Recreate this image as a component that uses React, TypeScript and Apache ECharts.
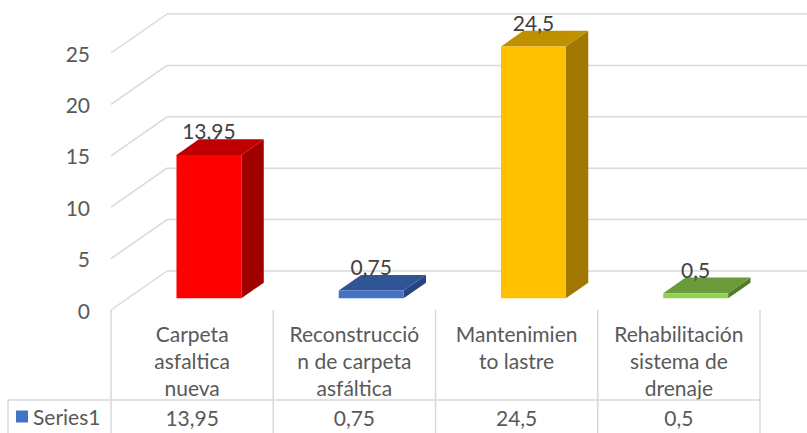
import React, { useEffect, useRef } from "react";
import * as echarts from "echarts";

const categories = [
  "Carpeta asfaltica nueva",
  "Reconstrucción de carpeta asfáltica",
  "Mantenimiento lastre",
  "Rehabilitación sistema de drenaje",
];
const categoryLines = [
  "Carpeta\nasfaltica\nnueva",
  "Reconstrucció\nn de carpeta\nasfáltica",
  "Mantenimien\nto lastre",
  "Rehabilitación\nsistema de\ndrenaje",
];
const values = [13.95, 0.75, 24.5, 0.5];
const seriesName = "Series1";
const yTicks = [0, 5, 10, 15, 20, 25];

const frontColors = ["#FF0000", "#4472C4", "#FFC000", "#92D050"];
const topColors = ["#C00000", "#2F5597", "#BF9000", "#6A9B3A"];
const sideColors = ["#A00000", "#264680", "#A07800", "#507C2C"];

const DX = 56;
const DY = -39;
const F1 = 0.3;
const F2 = 0.7;
const FONT = "Lato";
const FS = 21;
const fmt = (v: number) => String(v).replace(".", ",");

export default function App() {
  const ref = useRef<HTMLDivElement>(null);
  useEffect(() => {
    if (!ref.current) return;
    const chart = echarts.init(ref.current, null, { renderer: "svg" });
    const gridColor = "#D9D9D9";
    chart.setOption({
      animation: false,
      backgroundColor: "#FFFFFF",
      legend: {
        data: [seriesName],
        left: 16,
        top: 406,
        padding: 0,
        icon: "rect",
        itemWidth: 12,
        itemHeight: 12,
        itemGap: 6,
        selectedMode: false,
        textStyle: { fontFamily: FONT, fontSize: FS, color: "#595959" },
      },
      grid: { left: 111, right: 47, top: 53, bottom: 123 },
      xAxis: {
        type: "category",
        data: categories,
        axisLine: { show: false },
        axisTick: { show: false },
        splitLine: { show: false },
        axisLabel: {
          interval: 0,
          margin: 10,
          fontFamily: FONT,
          fontSize: FS,
          lineHeight: 27,
          color: "#595959",
          formatter: (_: string, idx: number) => categoryLines[idx],
        },
      },
      yAxis: {
        type: "value",
        min: 0,
        max: 25,
        interval: 5,
        axisLine: { show: false },
        axisTick: { show: false },
        splitLine: { show: false },
        axisLabel: {
          margin: 21,
          fontFamily: FONT,
          fontSize: FS,
          color: "#595959",
        },
      },
      series: [
        {
          type: "custom",
          name: "walls",
          silent: true,
          data: yTicks.map((t) => [0, t]),
          z: 1,
          renderItem: (params: any, api: any) => {
            const cs = params.coordSys;
            const v = api.value(1);
            const y = api.coord([0, v])[1];
            const x0 = cs.x;
            return {
              type: "group",
              children: [
                {
                  type: "line",
                  shape: { x1: x0, y1: y, x2: x0 + DX, y2: y + DY },
                  style: { stroke: gridColor, lineWidth: 1.5 },
                },
                {
                  type: "line",
                  shape: { x1: x0 + DX, y1: y + DY, x2: cs.x + cs.width + DX, y2: y + DY },
                  style: { stroke: gridColor, lineWidth: 1.5 },
                },
              ],
            };
          },
        },
        {
          type: "custom",
          name: "table",
          silent: true,
          data: values.map((v, i) => [i, v]),
          z: 1,
          renderItem: (params: any, api: any) => {
            const cs = params.coordSys;
            const i = api.value(0);
            const v = api.value(1);
            const c = api.coord([i, 0]);
            const band = api.size([1, 0])[0];
            const left = c[0] - band / 2;
            const right = c[0] + band / 2;
            const yTop = cs.y + cs.height;
            const rowY = yTop + 90;
            const children: any[] = [
              {
                type: "line",
                shape: { x1: left, y1: yTop, x2: left, y2: yTop + 140 },
                style: { stroke: gridColor, lineWidth: 1.5 },
              },
              {
                type: "line",
                shape: { x1: left, y1: rowY, x2: right, y2: rowY },
                style: { stroke: gridColor, lineWidth: 1.5 },
              },
              {
                type: "text",
                style: {
                  x: c[0],
                  y: rowY + 17,
                  text: fmt(v),
                  fontFamily: FONT,
                  fontSize: FS,
                  fill: "#595959",
                  align: "center",
                  verticalAlign: "middle",
                },
              },
            ];
            if (i === values.length - 1) {
              children.push({
                type: "line",
                shape: { x1: right, y1: yTop, x2: right, y2: yTop + 140 },
                style: { stroke: gridColor, lineWidth: 1.5 },
              });
            }
            if (i === 0) {
              children.push(
                {
                  type: "line",
                  shape: { x1: 8, y1: rowY, x2: left, y2: rowY },
                  style: { stroke: gridColor, lineWidth: 1.5 },
                },
                {
                  type: "line",
                  shape: { x1: 8, y1: rowY, x2: 8, y2: rowY + 50 },
                  style: { stroke: gridColor, lineWidth: 1.5 },
                }
              );
            }
            return { type: "group", children };
          },
        },
        {
          type: "custom",
          name: seriesName,
          itemStyle: { color: "#4472C4" },
          data: values.map((v, i) => [i, v]),
          z: 3,
          renderItem: (params: any, api: any) => {
            const i = api.value(0);
            const v = api.value(1);
            const base = api.coord([i, 0]);
            const top = api.coord([i, v]);
            const band = api.size([1, 0])[0];
            const w = band * 0.4;
            const ox = DX * F1;
            const oy = DY * F1;
            const ddx = DX * (F2 - F1);
            const ddy = DY * (F2 - F1);
            const x1 = base[0] + ox - w / 2;
            const x2 = base[0] + ox + w / 2;
            const yb = base[1] + oy;
            const yt = top[1] + oy;
            return {
              type: "group",
              children: [
                {
                  type: "polygon",
                  shape: {
                    points: [
                      [x2, yt],
                      [x2 + ddx, yt + ddy],
                      [x2 + ddx, yb + ddy],
                      [x2, yb],
                    ],
                  },
                  style: { fill: sideColors[i] },
                },
                {
                  type: "polygon",
                  shape: {
                    points: [
                      [x1, yt],
                      [x2, yt],
                      [x2 + ddx, yt + ddy],
                      [x1 + ddx, yt + ddy],
                    ],
                  },
                  style: { fill: topColors[i] },
                },
                {
                  type: "rect",
                  shape: { x: x1, y: yt, width: w, height: Math.max(yb - yt, 0.5) },
                  style: { fill: frontColors[i] },
                },
                {
                  type: "text",
                  style: {
                    x: (x1 + x2) / 2,
                    y: yt - 24,
                    text: fmt(v),
                    fontFamily: FONT,
                    fontSize: FS,
                    fill: "#404040",
                    align: "center",
                    verticalAlign: "middle",
                  },
                },
              ],
            };
          },
        },
      ],
    });
    return () => chart.dispose();
  }, []);
  return (
    <div
      ref={ref}
      style={{ position: "absolute", left: 0, top: 0, width: 807, height: 433, background: "#fff" }}
    />
  );
}
